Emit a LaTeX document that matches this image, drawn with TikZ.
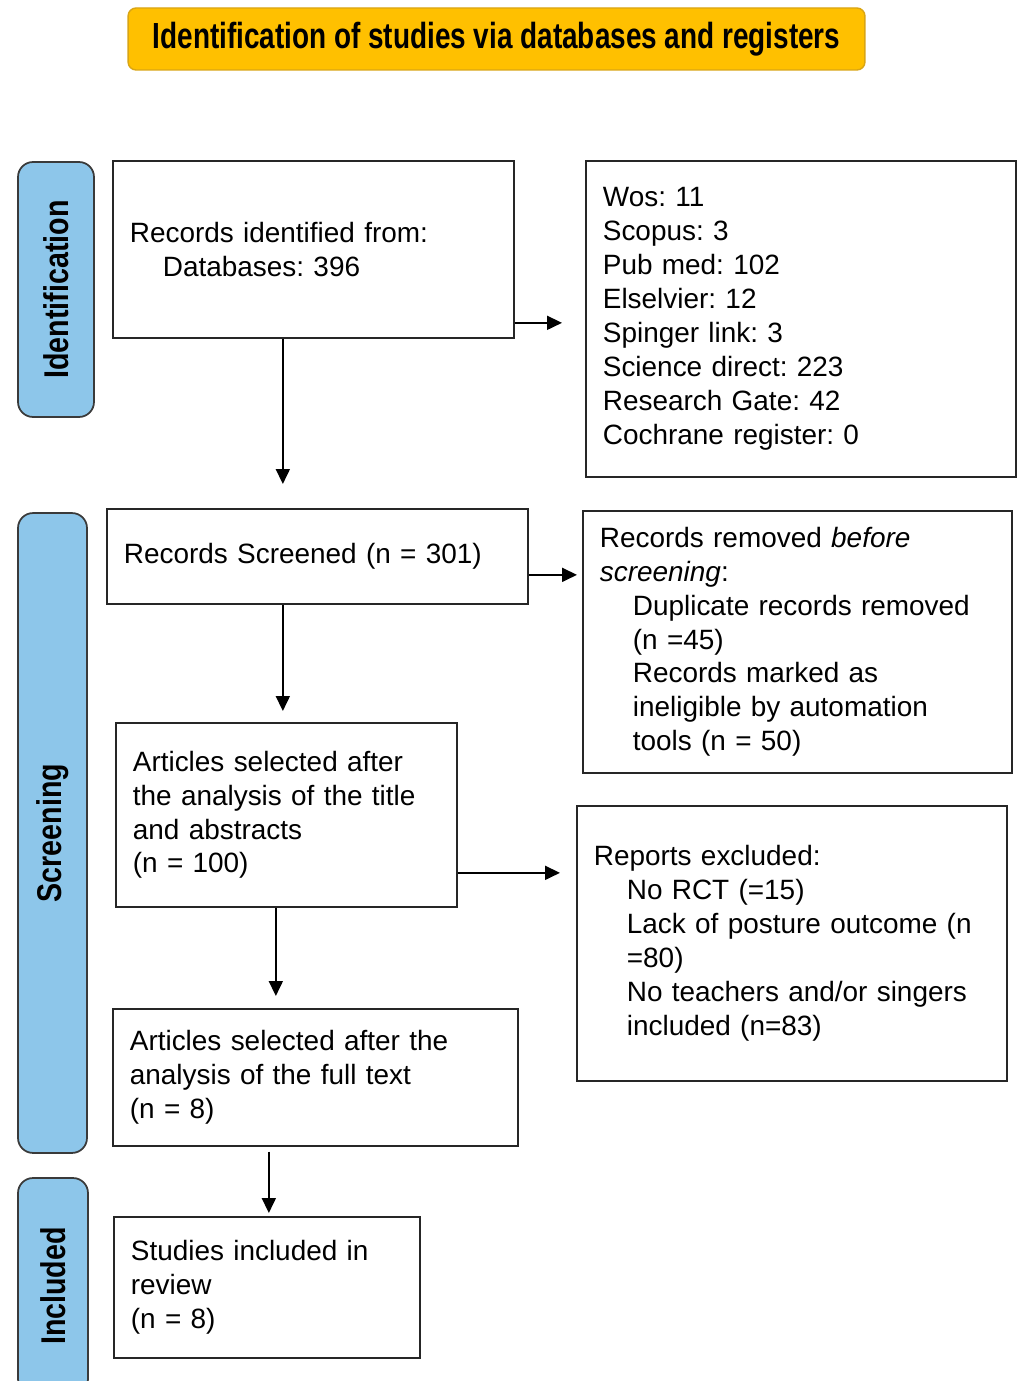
\documentclass[tikz,border=0pt]{standalone}
\usepackage{fontspec}
\setmainfont{Liberation Sans}
\usepackage{tikz}
\usetikzlibrary{arrows.meta}
\frenchspacing

\definecolor{headorange}{HTML}{FFC000}
\definecolor{headedge}{HTML}{D9A514}
\definecolor{sideblue}{HTML}{8DC6EA}
\definecolor{sideedge}{HTML}{3A3A3A}

\begin{document}
\begin{tikzpicture}[x=0.02cm, y=-0.02cm,
        box/.style={draw=black!85, line width=1pt, anchor=north west, align=left,
            inner xsep=0.34cm, inner ysep=0pt, text width=#1,
            font=\fontsize{15.9}{19.3}\selectfont},
        side/.style={draw=sideedge, fill=sideblue, line width=1pt, rounded corners=0.3cm,
            rotate=90, inner sep=0pt, font=\fontsize{16.3}{19}\selectfont\bfseries},
        arr/.style={-{Triangle[length=0.3cm,width=0.28cm]}, line width=1pt}]
        \clip (0,0) rectangle (1017,1381);
        % title
        \node[draw=headedge, fill=headorange, line width=0.8pt, rounded corners=0.16cm,
            minimum width=14.74cm, minimum height=1.24cm,
            font=\fontsize{15.9}{19}\selectfont\bfseries] (title) at (496.5,39)
            {\scalebox{1}[1.3]{Identification of studies via databases and registers}};
        % phases
        \node[side, minimum width=5.1cm, minimum height=1.52cm] (phaseid) at (56,289.5)
            {\scalebox{1}[1.2]{Identification}};
        \node[side, minimum width=12.8cm, minimum height=1.38cm] (phasescr) at (52.5,833)
            {\scalebox{1}[1.2]{Screening}};
        \node[side, minimum width=4.32cm, minimum height=1.4cm] (phaseinc) at (53,1286)
            {\scalebox{1}[1.2]{Included}};
        % boxes
        \node[box=7.34cm, minimum height=3.54cm] (recid) at (112,160)
            {Records identified from:\\ \hspace*{0.66cm}Databases: 396};
        \node[box=7.92cm, minimum height=6.32cm] (dblist) at (585,160)
            {Wos: 11\\ Scopus: 3\\ Pub med: 102\\ Elselvier: 12\\ Spinger link: 3\\
             Science direct: 223\\ Research Gate: 42\\ Cochrane register: 0};
        \node[box=7.74cm, minimum height=1.9cm] (screened) at (106,508)
            {Records Screened (n = 301)};
        \node[box=7.9cm, minimum height=5.24cm] (removed) at (582,510)
            {Records removed \textit{before}\\ \textit{screening}:\\
             \hspace*{0.66cm}Duplicate records removed\\ \hspace*{0.66cm}(n =45)\\
             \hspace*{0.66cm}Records marked as\\ \hspace*{0.66cm}ineligible by automation\\
             \hspace*{0.66cm}tools (n = 50)};
        \node[box=6.14cm, minimum height=3.68cm] (titleabs) at (115,722)
            {Articles selected after\\ the analysis of the title\\ and abstracts\\ (n = 100)};
        \node[box=7.92cm, minimum height=5.5cm] (excluded) at (576,805)
            {Reports excluded:\\ \hspace*{0.66cm}No RCT (=15)\\
             \hspace*{0.66cm}Lack of posture outcome (n\\ \hspace*{0.66cm}=80)\\
             \hspace*{0.66cm}No teachers and/or singers\\ \hspace*{0.66cm}included (n=83)};
        \node[box=7.42cm, minimum height=2.74cm] (fulltext) at (112,1008)
            {Articles selected after the\\ analysis of the full text\\ (n = 8)};
        \node[box=5.44cm, minimum height=2.82cm] (included) at (113,1216)
            {Studies included in\\ review\\ (n = 8)};
        % arrows
        \coordinate (a1) at ([yshift=-1.47cm]recid.east);
        \draw[arr, shorten >=0.46cm] (a1) -- (a1 -| dblist.west);
        \coordinate (a2) at ([xshift=-0.61cm]recid.south);
        \draw[arr, shorten >=0.48cm] (a2) -- (a2 |- screened.north);
        \coordinate (a3) at ([yshift=-0.37cm]screened.east);
        \draw[arr, shorten >=0.1cm] (a3) -- (a3 -| removed.west);
        \coordinate (a4) at ([xshift=-0.69cm]screened.south);
        \draw[arr, shorten >=0.22cm] (a4) -- (a4 |- titleabs.north);
        \coordinate (a5) at ([yshift=-1.16cm]titleabs.east);
        \draw[arr, shorten >=0.32cm] (a5) -- (a5 -| excluded.west);
        \coordinate (a6) at ([xshift=-0.21cm]titleabs.south);
        \draw[arr, shorten >=0.24cm] (a6) -- (a6 |- fulltext.north);
        \coordinate (a7) at ([xshift=-0.93cm]fulltext.south);
        \draw[arr, shorten <=0.1cm, shorten >=0.06cm] (a7) -- (a7 |- included.north);
    \end{tikzpicture}
\end{document}
